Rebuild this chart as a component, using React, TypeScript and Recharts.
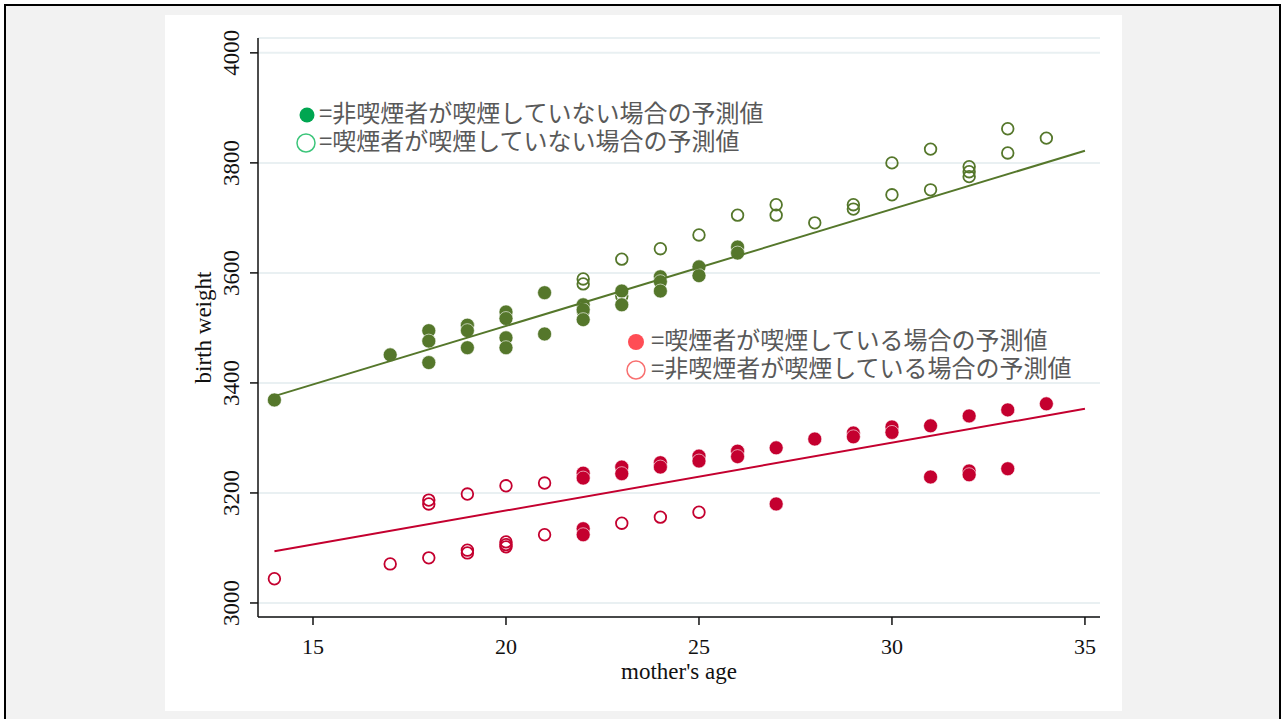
import React from 'react';
import { ScatterChart, Scatter, XAxis, YAxis, CartesianGrid } from 'recharts';

// ---- data ----
const xTicks = [15, 20, 25, 30, 35];
const yTicks = [3000, 3200, 3400, 3600, 3800, 4000];

const greenFilledX = [14, 17, 18, 18, 18, 19, 19, 19, 20, 20, 20, 20, 21, 21, 22, 22, 22, 23, 23, 24, 24, 24, 25, 25, 26, 26];
const greenFilledY = [3369, 3451, 3495, 3476, 3437, 3505, 3495, 3464, 3529, 3517, 3482, 3464, 3564, 3489, 3542, 3533, 3515, 3567, 3542, 3593, 3584, 3567, 3611, 3595, 3647, 3636];

const greenOpenX = [22, 22, 22, 23, 23, 24, 25, 26, 27, 27, 28, 29, 29, 30, 30, 31, 31, 32, 32, 32, 33, 33, 34];
const greenOpenY = [3589, 3580, 3530, 3625, 3558, 3644, 3669, 3705, 3724, 3705, 3691, 3724, 3716, 3800, 3742, 3825, 3751, 3793, 3784, 3775, 3862, 3818, 3845];

const redFilledX = [22, 22, 22, 22, 23, 23, 24, 24, 25, 25, 26, 26, 27, 27, 28, 29, 29, 30, 30, 31, 31, 32, 32, 32, 33, 33, 34];
const redFilledY = [3236, 3227, 3135, 3124, 3247, 3235, 3255, 3247, 3267, 3258, 3276, 3266, 3282, 3180, 3298, 3309, 3302, 3320, 3310, 3322, 3229, 3340, 3240, 3233, 3351, 3244, 3362];

const redOpenX = [14, 17, 18, 18, 18, 19, 19, 19, 20, 20, 20, 20, 21, 21, 23, 24, 25];
const redOpenY = [3044, 3071, 3187, 3180, 3082, 3198, 3096, 3091, 3213, 3111, 3106, 3102, 3218, 3124, 3145, 3156, 3165];

const fitX = [14, 35];
const greenFitY = [3376, 3822];
const redFitY = [3094, 3353];

const legendTop = ['=非喫煙者が喫煙していない場合の予測値', '=喫煙者が喫煙していない場合の予測値'];
const legendBottom = ['=喫煙者が喫煙している場合の予測値', '=非喫煙者が喫煙している場合の予測値'];

// ---- build ----
const zip = (xs: number[], ys: number[]) => xs.map((x, i) => ({ x, y: ys[i] }));
const greenFilled = zip(greenFilledX, greenFilledY);
const greenOpen = zip(greenOpenX, greenOpenY);
const redFilled = zip(redFilledX, redFilledY);
const redOpen = zip(redOpenX, redOpenY);
const greenFit = zip(fitX, greenFitY);
const redFit = zip(fitX, redFitY);

const GREEN = '#55772b';
const RED = '#c4002f';
const SERIF = '"Liberation Serif", "Times New Roman", serif';
const CJK = '"Noto Sans CJK JP", "Noto Sans", sans-serif';

const filled = (color: string) => (p: any) => (
  <circle cx={p.cx} cy={p.cy} r={7} fill={color} stroke="#ffffff" strokeWidth={0.6} />
);
const open = (color: string) => (p: any) => (
  <circle cx={p.cx} cy={p.cy} r={5.8} fill="none" stroke={color} strokeWidth={1.8} />
);
const none = () => <g />;

const XTick = (p: any) => (
  <text x={p.x} y={p.y + 27} textAnchor="middle" style={{ fontFamily: SERIF }} fontSize={22} fill="#111">
    {p.payload.value}
  </text>
);
const YTick = (p: any) => (
  <text
    transform={`translate(${p.x - 9}, ${p.y}) rotate(-90)`}
    textAnchor="middle"
    style={{ fontFamily: SERIF }}
    fontSize={23}
    fill="#111"
  >
    {p.payload.value}
  </text>
);

const XLabel = (p: any) => {
  const vb = p.viewBox;
  return (
    <text x={vb.x + vb.width / 2} y={vb.y + 62} textAnchor="middle" style={{ fontFamily: SERIF }} fontSize={23} fill="#111">
      mother's age
    </text>
  );
};
const YLabel = (p: any) => {
  const vb = p.viewBox;
  return (
    <text
      transform={`translate(46, ${vb.y + vb.height / 2}) rotate(-90)`}
      textAnchor="middle"
      style={{ fontFamily: SERIF }}
      fontSize={23}
      fill="#111"
    >
      birth weight
    </text>
  );
};

const legendText: React.CSSProperties = {
  position: 'absolute',
  fontFamily: CJK,
  fontSize: 24,
  color: '#595959',
  whiteSpace: 'nowrap',
  lineHeight: '24px',
  height: 24,
};

export default function App() {
  return (
    <div style={{ position: 'absolute', left: 0, top: 0, width: 1284, height: 719, overflow: 'hidden', background: '#fff' }}>
      <div
        style={{
          position: 'absolute',
          left: 4,
          top: 4,
          width: 1277,
          height: 740,
          boxSizing: 'border-box',
          border: '2px solid #000',
          background: '#f2f2f2',
        }}
      />
      <div style={{ position: 'absolute', left: 165, top: 15, width: 957, height: 696, background: '#fff' }}>
        <ScatterChart width={957} height={696} margin={{ top: 23, right: 22, left: 0, bottom: 0 }}>
          <CartesianGrid horizontal vertical={false} stroke="#e9f0f2" strokeWidth={2} />
          <XAxis
            type="number"
            dataKey="x"
            domain={[13.575, 35.39]}
            ticks={xTicks}
            allowDataOverflow
            height={94}
            tickSize={8}
            tick={<XTick />}
            axisLine={{ stroke: '#111', strokeWidth: 1.5 }}
            tickLine={{ stroke: '#111', strokeWidth: 1.5 }}
            label={<XLabel />}
          />
          <YAxis
            type="number"
            dataKey="y"
            domain={[2974.5, 4027]}
            ticks={yTicks}
            allowDataOverflow
            width={93}
            tickSize={8}
            tick={<YTick />}
            axisLine={{ stroke: '#111', strokeWidth: 1.5 }}
            tickLine={{ stroke: '#111', strokeWidth: 1.5 }}
            label={<YLabel />}
          />
          <Scatter data={greenOpen} shape={open(GREEN)} isAnimationActive={false} />
          <Scatter data={greenFilled} shape={filled(GREEN)} isAnimationActive={false} />
          <Scatter data={redOpen} shape={open(RED)} isAnimationActive={false} />
          <Scatter data={redFilled} shape={filled(RED)} isAnimationActive={false} />
          <Scatter data={greenFit} shape={none} line={{ stroke: GREEN, strokeWidth: 2 }} isAnimationActive={false} />
          <Scatter data={redFit} shape={none} line={{ stroke: RED, strokeWidth: 2 }} isAnimationActive={false} />
        </ScatterChart>
        {/* legends */}
        <svg style={{ position: 'absolute', left: 0, top: 0 }} width={957} height={696}>
          <circle cx={142} cy={100} r={7.5} fill="#00a651" />
          <circle cx={141} cy={128} r={9} fill="none" stroke="#3cc57a" strokeWidth={1.5} />
          <circle cx={471} cy={327} r={8} fill="#ff4d55" />
          <circle cx={471} cy={355} r={9} fill="none" stroke="#f87070" strokeWidth={1.5} />
        </svg>
        <div style={{ ...legendText, left: 154, top: 85 }}>{legendTop[0]}</div>
        <div style={{ ...legendText, left: 154, top: 113 }}>{legendTop[1]}</div>
        <div style={{ ...legendText, left: 486, top: 312 }}>{legendBottom[0]}</div>
        <div style={{ ...legendText, left: 486, top: 340 }}>{legendBottom[1]}</div>
      </div>
    </div>
  );
}
